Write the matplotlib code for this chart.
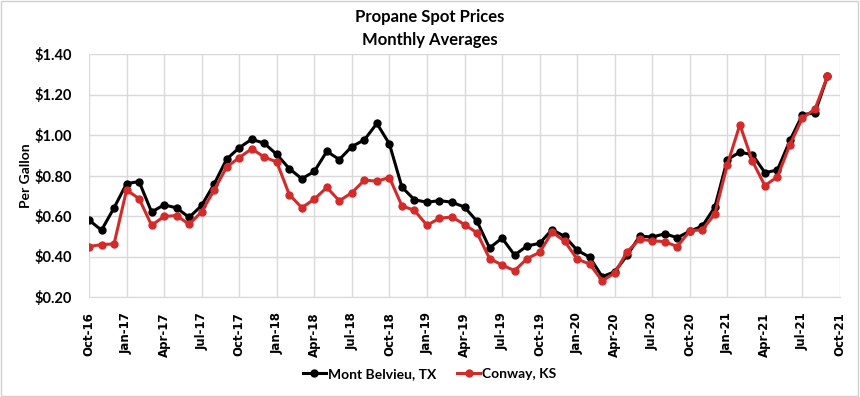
import matplotlib
matplotlib.use("Agg")
import matplotlib.pyplot as plt
from matplotlib.patches import Rectangle

months = ["Oct-16","Nov-16","Dec-16","Jan-17","Feb-17","Mar-17","Apr-17","May-17","Jun-17","Jul-17","Aug-17","Sep-17",
          "Oct-17","Nov-17","Dec-17","Jan-18","Feb-18","Mar-18","Apr-18","May-18","Jun-18","Jul-18","Aug-18","Sep-18",
          "Oct-18","Nov-18","Dec-18","Jan-19","Feb-19","Mar-19","Apr-19","May-19","Jun-19","Jul-19","Aug-19","Sep-19",
          "Oct-19","Nov-19","Dec-19","Jan-20","Feb-20","Mar-20","Apr-20","May-20","Jun-20","Jul-20","Aug-20","Sep-20",
          "Oct-20","Nov-20","Dec-20","Jan-21","Feb-21","Mar-21","Apr-21","May-21","Jun-21","Jul-21","Aug-21","Sep-21"]

mont_belvieu = [0.58, 0.53, 0.64, 0.76, 0.77, 0.62, 0.655, 0.64, 0.593, 0.652, 0.758, 0.881,
                0.937, 0.979, 0.959, 0.904, 0.834, 0.784, 0.82, 0.919, 0.879, 0.943, 0.976, 1.057,
                0.956, 0.743, 0.68, 0.668, 0.676, 0.668, 0.644, 0.574, 0.442, 0.491, 0.407, 0.452,
                0.465, 0.533, 0.499, 0.431, 0.397, 0.30, 0.325, 0.406, 0.501, 0.496, 0.512, 0.493,
                0.525, 0.55, 0.644, 0.879, 0.915, 0.903, 0.814, 0.827, 0.973, 1.10, 1.11, 1.29]

conway = [0.449, 0.459, 0.462, 0.728, 0.686, 0.554, 0.598, 0.602, 0.559, 0.621, 0.728, 0.842,
          0.888, 0.932, 0.891, 0.867, 0.706, 0.641, 0.683, 0.741, 0.675, 0.715, 0.777, 0.772,
          0.79, 0.65, 0.628, 0.554, 0.589, 0.595, 0.558, 0.517, 0.39, 0.358, 0.33, 0.39,
          0.42, 0.52, 0.476, 0.387, 0.363, 0.28, 0.318, 0.424, 0.485, 0.478, 0.473, 0.449,
          0.527, 0.532, 0.61, 0.854, 1.051, 0.871, 0.75, 0.794, 0.952, 1.084, 1.128, 1.29]

tick_labels = ["Oct-16","Jan-17","Apr-17","Jul-17","Oct-17","Jan-18","Apr-18","Jul-18","Oct-18",
               "Jan-19","Apr-19","Jul-19","Oct-19","Jan-20","Apr-20","Jul-20","Oct-20","Jan-21",
               "Apr-21","Jul-21","Oct-21"]
y_ticks = [0.20, 0.40, 0.60, 0.80, 1.00, 1.20, 1.40]

title_font = ["Lato", "DejaVu Sans"]
fig = plt.figure(figsize=(8.6, 3.97), dpi=100)
ax = fig.add_axes([89/860, 1-297/397, (840-89)/860, (297-54)/397])

x = list(range(len(months)))
ax.plot(x, mont_belvieu, color="black", lw=2.2, marker="o", ms=5, label="Mont Belvieu, TX")
ax.plot(x, conway, color="#D42A2A", lw=2.2, marker="o", ms=5, label="Conway, KS")

ax.set_xlim(0, 60)
ax.set_ylim(0.20, 1.40)
ax.set_xticks(list(range(0, 61, 3)))
ax.set_xticklabels(tick_labels, rotation=90, fontsize=8.5, fontweight="bold", family="DejaVu Sans")
ax.set_yticks(y_ticks)
ax.set_yticklabels([f"${v:.2f}" for v in y_ticks], fontsize=10.5, fontweight="bold", family=title_font)
ax.tick_params(axis="x", length=0, pad=11)
ax.tick_params(axis="y", length=0, pad=12)
ax.grid(True, color="#D9D9D9", lw=1)
ax.set_axisbelow(True)
for s in ax.spines.values():
    s.set_visible(False)
ax.spines["bottom"].set_visible(True)
ax.spines["bottom"].set_color("#D9D9D9")

ax.set_ylabel("Per Gallon", fontsize=10, fontweight="bold", family=title_font, labelpad=2)

fig.text(0.5, 1-17/397, "Propane Spot Prices", ha="center", va="center", fontsize=12, fontweight="bold", family=title_font)
fig.text(0.5, 1-40/397, "Monthly Averages", ha="center", va="center", fontsize=12, fontweight="bold", family=title_font)

leg = fig.legend(loc="center", bbox_to_anchor=(0.5, 1-374/397), ncol=2, frameon=False,
                 prop={"family": title_font, "weight": "bold", "size": 10},
                 handlelength=1.6, columnspacing=1.5, handletextpad=0.2)

fig.patches.append(Rectangle((0.001, 0.002), 0.997, 0.995, transform=fig.transFigure,
                             fill=False, edgecolor="#D0D0D0", lw=1))
fig.savefig("out.png", dpi=100)
